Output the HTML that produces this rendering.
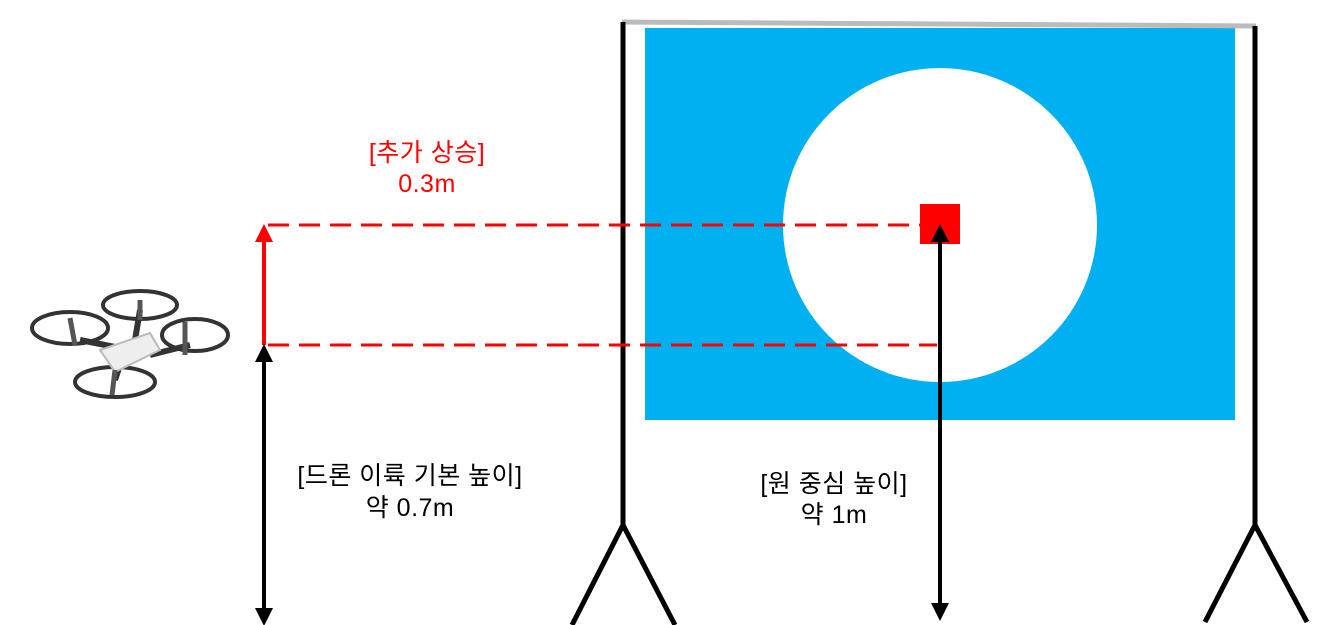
<!DOCTYPE html>
<html><head><meta charset="utf-8">
<style>
html,body{margin:0;padding:0;background:#fff;width:1337px;height:625px;overflow:hidden}
svg text{font-family:"Liberation Sans","Noto Sans CJK KR",sans-serif;font-size:25px;letter-spacing:0.5px;text-anchor:middle}
</style></head><body>
<svg width="1337" height="625" viewBox="0 0 1337 625">
<defs>
<marker id="ab" markerWidth="4.5" markerHeight="4.5" refX="2" refY="2.25" orient="auto-start-reverse" markerUnits="strokeWidth"><path d="M0,0 L4.5,2.25 L0,4.5 z" fill="#000"/></marker>
<marker id="ar" markerWidth="4.5" markerHeight="4.5" refX="2" refY="2.25" orient="auto" markerUnits="strokeWidth"><path d="M0,0 L4.5,2.25 L0,4.5 z" fill="#f00"/></marker>
</defs>
<rect x="645" y="28" width="590" height="392" fill="#00B0F0"/>
<ellipse cx="940" cy="225" rx="157" ry="157" fill="#fff"/>
<line x1="622" y1="22" x2="1256" y2="26" stroke="#bbb" stroke-width="5"/>
<g stroke="#000" stroke-width="5" fill="none">
<line x1="623" y1="22" x2="623" y2="525"/><polyline points="572,625 623,525 675,625"/></g>
<g stroke="#000" stroke-width="5" fill="none">
<line x1="1255" y1="26" x2="1255" y2="525"/><polyline points="1205,622 1255,525 1307,622"/></g>
<line x1="268" y1="225" x2="920" y2="225" stroke="#f00" stroke-width="3" stroke-dasharray="21,10"/>
<line x1="268" y1="345" x2="937" y2="345" stroke="#f00" stroke-width="3" stroke-dasharray="21,10"/>
<rect x="920" y="204" width="40" height="40" fill="#f00"/>
<line x1="264" y1="345" x2="264" y2="234" stroke="#f00" stroke-width="4" marker-end="url(#ar)"/>
<line x1="264" y1="354" x2="264" y2="616" stroke="#000" stroke-width="4" marker-start="url(#ab)" marker-end="url(#ab)"/>
<line x1="940" y1="234" x2="940" y2="611" stroke="#000" stroke-width="4" marker-start="url(#ab)" marker-end="url(#ab)"/>
<g fill="#f00"><text x="427" y="161">[추가 상승]</text><text x="427" y="192">0.3m</text></g>
<g fill="#000"><text x="410" y="484">[드론 이륙 기본 높이]</text><text x="410" y="516">약 0.7m</text></g>
<g fill="#000"><text x="834" y="492">[원 중심 높이]</text><text x="834" y="523">약 1m</text></g>
<g fill="none" stroke="#333" stroke-width="4">
<ellipse cx="140" cy="305" rx="37" ry="14"/>
<ellipse cx="70" cy="328" rx="38" ry="16"/>
<ellipse cx="195" cy="335" rx="33" ry="16"/>
<ellipse cx="115" cy="382" rx="40" ry="15"/>
<path d="M80,340 L130,350 M190,345 L150,355 M140,310 L135,340 M115,380 L120,365" stroke-width="6"/>
<path d="M100,350 L150,333 L160,350 L115,372 z" fill="#eee" stroke="#bbb" stroke-width="2"/>
<path d="M70,318 L75,345 M185,322 L185,355 M140,300 L140,320 M115,370 L112,395" stroke="#555" stroke-width="5"/>
</g>
</svg>
</body></html>
